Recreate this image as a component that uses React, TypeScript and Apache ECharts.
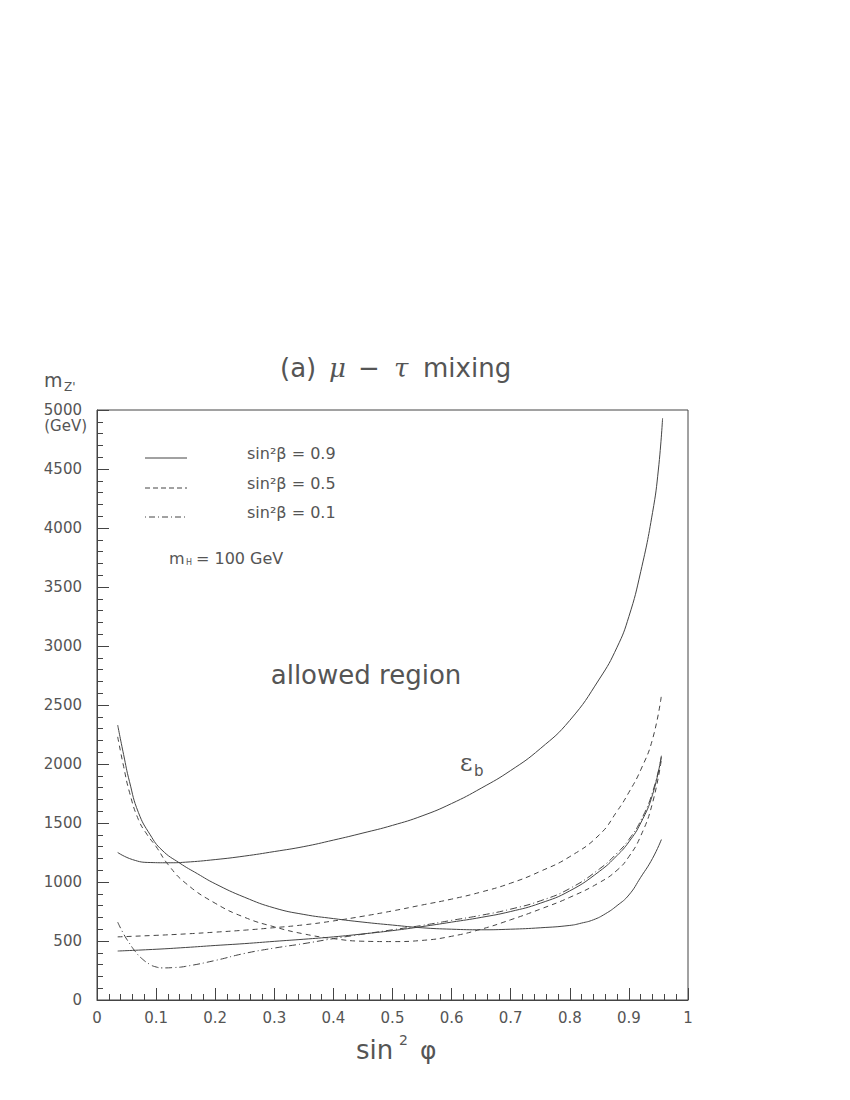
import React, { useEffect, useRef } from "react";
import * as echarts from "echarts";

// ---- data ----
// sin^2 beta = 0.9, epsilon_b bound (upper solid)
const xA = [0.035, 0.06, 0.09, 0.12, 0.15, 0.2, 0.25, 0.3, 0.35, 0.4, 0.45, 0.5, 0.55, 0.6, 0.65, 0.7, 0.75, 0.8, 0.85, 0.88, 0.9, 0.92, 0.94, 0.95, 0.957];
const yA = [1250, 1190, 1165, 1163, 1168, 1190, 1220, 1258, 1300, 1355, 1415, 1480, 1560, 1665, 1795, 1945, 2130, 2370, 2720, 2990, 3250, 3630, 4130, 4500, 4930];
// sin^2 beta = 0.9, decreasing solid
const xB = [0.035, 0.045, 0.055, 0.07, 0.09, 0.11, 0.14, 0.17, 0.2, 0.25, 0.3, 0.35, 0.4, 0.45, 0.5, 0.55, 0.6, 0.65, 0.7, 0.75, 0.8, 0.82, 0.84, 0.86, 0.88, 0.9, 0.92, 0.94, 0.955];
const yB = [2330, 2080, 1850, 1590, 1400, 1270, 1160, 1070, 985, 870, 780, 725, 690, 660, 635, 612, 600, 595, 600, 612, 632, 652, 680, 730, 800, 890, 1040, 1200, 1360];
// sin^2 beta = 0.9, lower rising solid
const xC = [0.035, 0.1, 0.15, 0.2, 0.25, 0.3, 0.35, 0.4, 0.45, 0.5, 0.55, 0.6, 0.65, 0.7, 0.75, 0.8, 0.85, 0.88, 0.9, 0.92, 0.94, 0.955];
const yC = [415, 430, 445, 462, 478, 497, 515, 535, 560, 588, 622, 660, 700, 750, 820, 925, 1090, 1225, 1340, 1500, 1740, 2070];
// sin^2 beta = 0.5, decreasing dashed
const xD = [0.035, 0.045, 0.055, 0.07, 0.085, 0.1, 0.12, 0.15, 0.2, 0.25, 0.3, 0.35, 0.4, 0.45, 0.5, 0.55, 0.6, 0.65, 0.7, 0.75, 0.8, 0.85, 0.88, 0.9, 0.92, 0.94, 0.955];
const yD = [2230, 1980, 1760, 1530, 1400, 1300, 1150, 990, 820, 700, 620, 560, 520, 498, 495, 505, 540, 600, 680, 770, 870, 995, 1100, 1215, 1390, 1670, 2040];
// sin^2 beta = 0.5, rising dashed
const xE = [0.035, 0.1, 0.15, 0.2, 0.25, 0.3, 0.35, 0.4, 0.45, 0.5, 0.55, 0.6, 0.65, 0.7, 0.75, 0.8, 0.85, 0.88, 0.9, 0.92, 0.94, 0.955];
const yE = [535, 548, 560, 575, 592, 613, 637, 670, 710, 755, 805, 855, 915, 990, 1090, 1215, 1400, 1600, 1760, 1950, 2210, 2580];
// sin^2 beta = 0.1, dash-dot
const xF = [0.035, 0.045, 0.055, 0.065, 0.075, 0.09, 0.1, 0.11, 0.13, 0.15, 0.2, 0.25, 0.3, 0.35, 0.4, 0.45, 0.5, 0.55, 0.6, 0.65, 0.7, 0.75, 0.8, 0.85, 0.88, 0.9, 0.92, 0.94, 0.955];
const yF = [660, 560, 480, 410, 355, 300, 280, 272, 275, 285, 335, 395, 440, 478, 520, 558, 595, 632, 675, 718, 770, 840, 945, 1110, 1245, 1360, 1520, 1760, 2060];

const legendLabels = ["sin²β = 0.9", "sin²β = 0.5", "sin²β = 0.1"];
const xTickLabels = ["0", "0.1", "0.2", "0.3", "0.4", "0.5", "0.6", "0.7", "0.8", "0.9", "1"];

const FONT = "DejaVu Sans";
const TXT = "#555";
const LINE = "#444";
const SOLID: any = "solid";
const DASH: any = [5, 4];
const DASHDOT: any = [7, 3, 1, 3];

const zip = (xs: number[], ys: number[]) => xs.map((x, i) => [x, ys[i]]);

export default function App() {
  const ref = useRef<HTMLDivElement>(null);
  useEffect(() => {
    if (!ref.current) return;
    const chart = echarts.init(ref.current, null, { renderer: "svg" });
    const mk = (name: string, xs: number[], ys: number[], type: any) => ({
      type: "line",
      name,
      data: zip(xs, ys),
      showSymbol: false,
      smooth: 0.5,
      silent: true,
      lineStyle: { color: LINE, width: 1, type },
    });
    const txt = (x: number, y: number, text: string, size: number, align = "left", extra: any = {}) => ({
      type: "text",
      x,
      y,
      silent: true,
      style: {
        text,
        fill: TXT,
        font: `${extra.italic ? "italic " : ""}${size}px ${extra.family || FONT}`,
        textAlign: align,
        textVerticalAlign: "middle",
      },
    });
    const legY = [458, 488, 517];
    const legTxtY = [453, 483, 512];
    const legTypes = [[], [5, 3], [1, 3, 6, 3]];
    const graphic: any[] = [];
    // title
    graphic.push(txt(280, 368, "(a)", 26));
    graphic.push(txt(329, 368, "μ", 26, "left", { italic: true, family: "DejaVu Serif" }));
    graphic.push(txt(358, 368, "−", 26));
    graphic.push(txt(394, 368, "τ", 26, "left", { italic: true, family: "DejaVu Serif" }));
    graphic.push(txt(423, 368, "mixing", 26));
    // y title
    graphic.push(txt(44, 380, "m", 19));
    graphic.push(txt(64, 387, "Z'", 12));
    graphic.push(txt(87, 426, "(GeV)", 15, "right"));
    // legend
    legendLabels.forEach((l, i) => {
      graphic.push({
        type: "line",
        silent: true,
        shape: { x1: 145, y1: legY[i], x2: 187, y2: legY[i] },
        style: { stroke: LINE, lineWidth: 1, lineDash: legTypes[i].length ? legTypes[i] : null },
      });
      graphic.push(txt(247, legTxtY[i], l, 16));
    });
    graphic.push(txt(169, 558, "m", 16));
    graphic.push(txt(186, 562, "H", 8));
    graphic.push(txt(196, 558, "= 100 GeV", 16));
    // annotations
    graphic.push(txt(366, 675, "allowed region", 26, "center"));
    graphic.push(txt(460, 763, "ε", 24, "left", { family: "DejaVu Serif" }));
    graphic.push(txt(474, 771, "b", 15));
    // x title
    graphic.push(txt(356, 1050, "sin", 26));
    graphic.push(txt(399, 1040, "2", 14));
    graphic.push(txt(420, 1050, "φ", 25));

    const axisCommon = {
      axisLine: { show: true, lineStyle: { color: LINE, width: 1 } },
      axisTick: { show: true, inside: true, length: 12, lineStyle: { color: LINE, width: 1 } },
      minorTick: { show: true, splitNumber: 5, length: 6, lineStyle: { color: LINE, width: 1 } },
      splitLine: { show: false },
      minorSplitLine: { show: false },
    };
    chart.setOption({
      animation: false,
      backgroundColor: "#fff",
      grid: { left: 97, top: 410, width: 591, height: 590, show: true, borderColor: LINE, borderWidth: 1, containLabel: false },
      xAxis: {
        type: "value",
        min: 0,
        max: 1,
        interval: 0.1,
        ...axisCommon,
        axisLabel: {
          margin: 10,
          fontSize: 15,
          color: TXT,
          fontFamily: FONT,
          formatter: (v: number) => xTickLabels[Math.round(v * 10)],
        },
      },
      yAxis: {
        type: "value",
        min: 0,
        max: 5000,
        interval: 500,
        ...axisCommon,
        axisLabel: { margin: 15, fontSize: 15, color: TXT, fontFamily: FONT, formatter: (v: number) => String(v) },
      },
      series: [
        mk("sin²β = 0.9 (εb)", xA, yA, SOLID),
        mk("sin²β = 0.9 (b)", xB, yB, SOLID),
        mk("sin²β = 0.9 (c)", xC, yC, SOLID),
        mk("sin²β = 0.5 (a)", xD, yD, DASH),
        mk("sin²β = 0.5 (b)", xE, yE, DASH),
        mk("sin²β = 0.1", xF, yF, DASHDOT),
      ],
      graphic,
    });
    return () => chart.dispose();
  }, []);
  return <div ref={ref} style={{ position: "absolute", left: 0, top: 0, width: 850, height: 1100 }} />;
}
